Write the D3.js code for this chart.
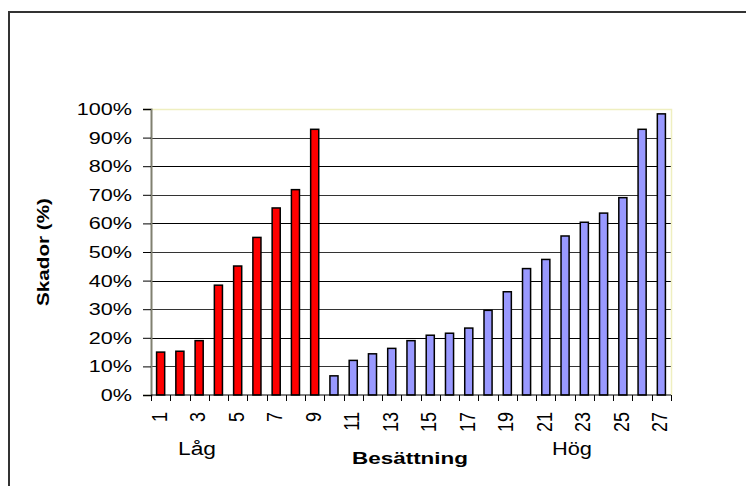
<!DOCTYPE html>
<html>
<head>
<meta charset="utf-8">
<script src="https://cdn.jsdelivr.net/npm/d3@7"></script>
<style>
  body { margin: 0; background: #fff; }
  svg { display: block; font-family: Arial, "Liberation Sans", sans-serif; }
</style>
</head>
<body>
<svg id="chart" width="746" height="486"></svg>
<script>
// Data
const positions = d3.range(1, 28).map(String);
const lowGroup = ["1", "2", "3", "4", "5", "6", "7", "8", "9"];
const damage = [15, 15.3, 19, 38.4, 45.1, 55.1, 65.4, 71.8, 92.9,
  6.7, 12.1, 14.4, 16.3, 19, 20.9, 21.6, 23.4, 29.6, 36.1,
  44.2, 47.4, 55.6, 60.4, 63.6, 69, 92.9, 98.3];
const yTicks = [0, 10, 20, 30, 40, 50, 60, 70, 80, 90, 100];

const svg = d3.select("#chart");
const margin = { top: 109, right: 75, bottom: 91, left: 151 };
const width = 746 - margin.left - margin.right;
const height = 486 - margin.top - margin.bottom;
const stretch = 1.27; // the original text is drawn a bit wide

// outer frame (only top and left edges show)
svg.append("path")
  .attr("d", "M9,486 V12 H746")
  .attr("fill", "none")
  .attr("stroke", "#333")
  .attr("stroke-width", 2);

const g = svg.append("g").attr("transform", `translate(${margin.left},${margin.top})`);

const x = d3.scaleBand().domain(positions).range([0, width]).paddingInner(0.58).paddingOuter(0.29);
const y = d3.scaleLinear().domain([0, 100]).range([height, 0]);

// gridlines
g.selectAll(".grid")
  .data(yTicks.filter((d) => d > 0 && d < 100))
  .enter()
  .append("line")
  .attr("x1", 0)
  .attr("x2", width)
  .attr("y1", (d) => Math.round(y(d)) + 0.5)
  .attr("y2", (d) => Math.round(y(d)) + 0.5)
  .attr("stroke", (d, i) => (i % 2 ? "#000" : "#333"));

// top and right edge of the plot area
g.append("path")
  .attr("d", `M0,${y(100) + 0.5} H${width + 0.5} V${height}`)
  .attr("fill", "none")
  .attr("stroke", "#efefc0")
  .attr("stroke-width", 1.5);

// bars
g.selectAll(".bar")
  .data(damage)
  .enter()
  .append("rect")
  .attr("x", (d, i) => x(positions[i]))
  .attr("y", (d) => y(d))
  .attr("width", x.bandwidth())
  .attr("height", (d) => height - y(d))
  .attr("fill", (d, i) => (lowGroup.includes(positions[i]) ? "#ff0000" : "#9999ff"))
  .attr("stroke", "#000")
  .attr("stroke-width", 1.5);

// y axis
const yAxis = g.append("g")
  .call(d3.axisLeft(y).tickValues(yTicks).tickFormat((d) => d + "%").tickSize(8));
yAxis.select(".domain").attr("stroke", "#808070").attr("stroke-width", 2);
yAxis.selectAll("text")
  .attr("font-size", 17)
  .attr("fill", "#000")
  .attr("x", -19 / stretch)
  .attr("transform", `scale(${stretch},1)`);

// x axis, ticks between categories
const xAxisG = g.append("g").attr("transform", `translate(0,${height})`);
xAxisG.append("line").attr("x1", 0).attr("x2", width).attr("stroke", "#000");
xAxisG.selectAll(".tk")
  .data(positions.concat(["end"]))
  .enter()
  .append("line")
  .attr("x1", (d, i) => Math.round(i * x.step()) + 0.5)
  .attr("x2", (d, i) => Math.round(i * x.step()) + 0.5)
  .attr("y1", 0)
  .attr("y2", 6)
  .attr("stroke", "#000");
xAxisG.selectAll(".lbl")
  .data(positions.filter((d, i) => i % 2 === 0))
  .enter()
  .append("text")
  .attr("transform", (d) => `translate(${x(d) + x.bandwidth() / 2 + 6},17) scale(${stretch},1) rotate(-90)`)
  .attr("text-anchor", "end")
  .attr("font-size", 18)
  .text((d) => d);

// axis titles
svg.append("text")
  .attr("transform", "translate(49,252) rotate(-90)")
  .attr("text-anchor", "middle")
  .attr("font-size", 17)
  .attr("font-weight", "bold")
  .attr("textLength", 108)
  .attr("lengthAdjust", "spacingAndGlyphs")
  .text("Skador (%)");
svg.append("text")
  .attr("x", 352)
  .attr("y", 464)
  .attr("font-size", 17)
  .attr("font-weight", "bold")
  .attr("textLength", 116)
  .attr("lengthAdjust", "spacingAndGlyphs")
  .text("Besättning");
svg.append("text")
  .attr("x", 178)
  .attr("y", 455)
  .attr("font-size", 18)
  .attr("textLength", 38)
  .attr("lengthAdjust", "spacingAndGlyphs")
  .text("Låg");
svg.append("text")
  .attr("x", 552)
  .attr("y", 455)
  .attr("font-size", 18)
  .attr("textLength", 40)
  .attr("lengthAdjust", "spacingAndGlyphs")
  .text("Hög");
</script>
</body>
</html>
